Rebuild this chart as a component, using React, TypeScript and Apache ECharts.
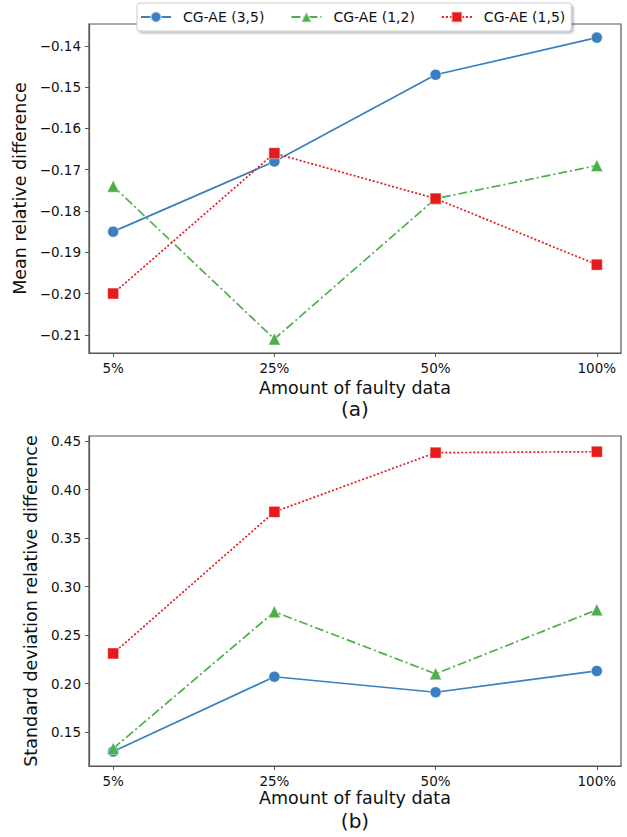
import React, { useEffect, useRef } from "react";
import * as echarts from "echarts";

const categories = ["5%", "25%", "50%", "100%"];
const seriesNames = ["CG-AE (3,5)", "CG-AE (1,2)", "CG-AE (1,5)"];

const meanCG35 = [-0.185, -0.168, -0.147, -0.138];
const meanCG12 = [-0.174, -0.211, -0.177, -0.169];
const meanCG15 = [-0.2, -0.166, -0.177, -0.193];

const stdCG35 = [0.13, 0.207, 0.191, 0.213];
const stdCG12 = [0.133, 0.274, 0.21, 0.276];
const stdCG15 = [0.231, 0.377, 0.438, 0.439];

const meanTicks = [-0.21, -0.2, -0.19, -0.18, -0.17, -0.16, -0.15, -0.14];
const stdTicks = [0.15, 0.2, 0.25, 0.3, 0.35, 0.4, 0.45];

const FONT = "DejaVu Sans";
const COLORS = ["#3a80bf", "#4daf4a", "#e41a1c"];
const SYMBOLS = ["circle", "triangle", "rect"];
const SIZES = [11, 12, 11];
const DASHES: any[] = ["solid", [9, 3, 2, 3], [2, 2]];
const FRAME = "#555";

const fmtNum = (v: number) => (v < 0 ? "\u2212" : "") + Math.abs(v).toFixed(2);

export default function App() {
  const ref = useRef<HTMLDivElement>(null);
  useEffect(() => {
    if (!ref.current) return;
    const chart = echarts.init(ref.current, null, { renderer: "svg" });
    const xIdx = categories.map((_, i) => i);

    const makeX = (gridIndex: number, gap: number) => ({
      type: "value",
      gridIndex,
      position: "bottom",
      min: -0.15,
      max: 3.15,
      axisLine: { show: true, onZero: false, lineStyle: { color: FRAME, width: 1.2 } },
      splitLine: { show: false },
      axisTick: {
        show: true,
        length: 4,
        customValues: xIdx,
        lineStyle: { color: FRAME, width: 1 },
      },
      axisLabel: {
        customValues: xIdx,
        margin: 8,
        fontFamily: FONT,
        fontSize: 13.5,
        color: "#111",
        formatter: (v: number) => categories[Math.round(v)] ?? "",
      },
      name: "Amount of faulty data",
      nameLocation: "middle",
      nameGap: gap,
      nameTextStyle: { fontFamily: FONT, fontSize: 17.5, color: "#111" },
    });

    const makeY = (gridIndex: number, min: number, max: number, ticks: number[], name: string, gap: number) => ({
      type: "value",
      gridIndex,
      position: "left",
      min,
      max,
      axisLine: { show: true, onZero: false, lineStyle: { color: FRAME, width: 1.2 } },
      splitLine: { show: false },
      axisTick: {
        show: true,
        length: 4,
        customValues: ticks,
        lineStyle: { color: FRAME, width: 1 },
      },
      axisLabel: {
        customValues: ticks,
        margin: 8,
        fontFamily: FONT,
        fontSize: 13.5,
        color: "#111",
        formatter: (v: number) => fmtNum(v),
      },
      name,
      nameLocation: "middle",
      nameGap: gap,
      nameTextStyle: { fontFamily: FONT, fontSize: 17.5, color: "#111" },
    });

    const mk = (name: string, idx: number, grid: number, vals: number[]) => ({
      type: "line",
      name,
      xAxisIndex: grid,
      yAxisIndex: grid,
      data: vals.map((v, i) => [i, v]),
      symbol: SYMBOLS[idx],
      symbolSize: SIZES[idx],
      showSymbol: true,
      color: COLORS[idx],
      lineStyle: { color: COLORS[idx], width: 1.7, type: DASHES[idx] },
      itemStyle: { color: COLORS[idx], borderColor: "rgba(255,255,255,0.45)", borderWidth: 1 },
      z: 2 + idx,
    });

    const gridCommon = {
      show: true,
      left: 89,
      right: 6,
      borderColor: FRAME,
      borderWidth: 1.2,
      backgroundColor: "transparent",
      containLabel: false,
    };

    chart.setOption({
      animation: false,
      backgroundColor: "#fff",
      grid: [
        { ...gridCommon, top: 24, height: 329 },
        { ...gridCommon, top: 436, height: 330 },
      ],
      xAxis: [makeX(0, 26), makeX(1, 22)],
      yAxis: [
        makeY(0, -0.2144, -0.1347, meanTicks, "Mean relative difference", 47),
        makeY(1, 0.115, 0.4552, stdTicks, "Standard deviation relative difference", 41),
      ],
      legend: {
        data: seriesNames,
        left: 137,
        top: 3,
        padding: [7, 6, 7, 3],
        itemWidth: 30,
        itemHeight: 13,
        itemGap: 26,
        backgroundColor: "#fff",
        borderColor: "#ccc",
        borderWidth: 1,
        borderRadius: 3,
        shadowColor: "rgba(0,0,0,0.25)",
        shadowBlur: 2,
        shadowOffsetX: 2,
        shadowOffsetY: 2,
        textStyle: { fontFamily: FONT, fontSize: 14, color: "#111", padding: [0, 0, 0, 7] },
        z: 10,
      },
      graphic: [
        {
          type: "text",
          x: 355,
          y: 409,
          style: { text: "(a)", fontFamily: FONT, fontSize: 20, fill: "#111", align: "center", verticalAlign: "middle" },
        },
        {
          type: "text",
          x: 355,
          y: 821,
          style: { text: "(b)", fontFamily: FONT, fontSize: 20, fill: "#111", align: "center", verticalAlign: "middle" },
        },
      ],
      series: [
        mk(seriesNames[0], 0, 0, meanCG35),
        mk(seriesNames[1], 1, 0, meanCG12),
        mk(seriesNames[2], 2, 0, meanCG15),
        mk(seriesNames[0], 0, 1, stdCG35),
        mk(seriesNames[1], 1, 1, stdCG12),
        mk(seriesNames[2], 2, 1, stdCG15),
      ],
    });
    return () => chart.dispose();
  }, []);
  return (
    <div
      ref={ref}
      style={{ position: "fixed", left: 0, top: 0, width: 627, height: 837 }}
    />
  );
}
